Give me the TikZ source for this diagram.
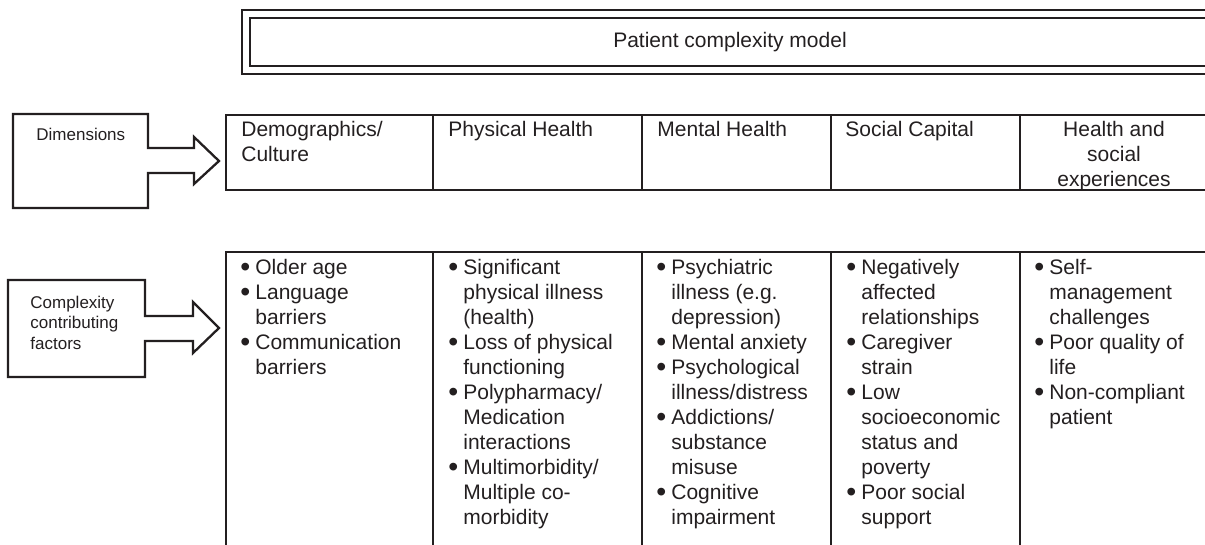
\documentclass[tikz,border=0pt]{standalone}
\usepackage{fontspec}
\setmainfont{Liberation Sans}
\definecolor{Ink}{HTML}{231F20}
\newcommand\bitem{\makebox[7.5pt][l]{\smash{\raisebox{-0.9pt}{\scalebox{1.35}{\textbullet}}}}}
\newcommand\bcont{\hspace*{7.5pt}}

\begin{document}
\begin{tikzpicture}[x=0.5pt,y=-0.5pt,color=Ink,
  rule/.style={line width=1.15pt},
  txt/.style={anchor=north west,inner sep=0pt,align=left,font=\fontsize{10.5}{12.5}\selectfont},
  lbl/.style={anchor=north west,inner sep=0pt,align=left,font=\fontsize{8.5}{10.25}\selectfont}]
  \useasboundingbox (0,0) rectangle (1205,545);
  \clip (0,0) rectangle (1205,545);

  \draw[rule] (242,10) rectangle (1230,74);
  \draw[rule] (250,18) rectangle (1222,66);
  \node[txt,anchor=base] (title) at (730,48) {Patient complexity model};

  \draw[rule] (13,114) -- (148,114) -- (148,148) -- (194,148) -- (194,137) -- (219,161)
    -- (194,184) -- (194,173) -- (148,173) -- (148,208) -- (13,208) -- cycle;
  \node[lbl] (dims) at (36,125.6) {\strut Dimensions};

  \draw[rule] (8,280) -- (145,280) -- (145,316) -- (193,316) -- (193,302) -- (219,328)
    -- (193,353) -- (193,341) -- (145,341) -- (145,377) -- (8,377) -- cycle;
  \node[lbl] (factors) at (30,293.6) {\strut Complexity\\contributing\\factors};

  \draw[rule] (226,115) rectangle (1230,190);
  \draw[rule] (226,560) |- (1230,252);
  \foreach \x in {433,642,831,1020} {
    \draw[rule] (\x,115) -- (\x,190);
    \draw[rule] (\x,252) -- (\x,560);
  }

  \node[txt] (demo) at (241,118.5) {\strut Demographics/\\Culture};
  \node[txt] (phys) at (448,118.5) {\strut Physical Health};
  \node[txt] (ment) at (657,118.5) {\strut Mental Health};
  \node[txt] (soc) at (845,118.5) {\strut Social Capital};
  \node[txt,anchor=north,align=center] (exper) at (1114,118.5) {\strut Health and\\social\\experiences};

  \node[txt] (demof) at (240,256.5) {\strut\bitem Older age\\ \bitem Language\\ \bcont barriers\\
    \bitem Communication\\ \bcont barriers};
  \node[txt] (physf) at (448,256.5) {\strut\bitem Significant\\ \bcont physical illness\\ \bcont (health)\\
    \bitem Loss of physical\\ \bcont functioning\\ \bitem Polypharmacy/\\ \bcont Medication\\
    \bcont interactions\\ \bitem Multimorbidity/\\ \bcont Multiple co-\\ \bcont morbidity};
  \node[txt] (mentf) at (656,256.5) {\strut\bitem Psychiatric\\ \bcont illness (e.g.\\ \bcont depression)\\
    \bitem Mental anxiety\\ \bitem Psychological\\ \bcont illness/distress\\ \bitem Addictions/\\
    \bcont substance\\ \bcont misuse\\ \bitem Cognitive\\ \bcont impairment};
  \node[txt] (socf) at (846,256.5) {\strut\bitem Negatively\\ \bcont affected\\ \bcont relationships\\
    \bitem Caregiver\\ \bcont strain\\ \bitem Low\\ \bcont socioeconomic\\ \bcont status and\\
    \bcont poverty\\ \bitem Poor social\\ \bcont support};
  \node[txt] (experf) at (1034,256.5) {\strut\bitem Self-\\ \bcont management\\ \bcont challenges\\
    \bitem Poor quality of\\ \bcont life\\ \bitem Non-compliant\\ \bcont patient};
\end{tikzpicture}
\end{document}
